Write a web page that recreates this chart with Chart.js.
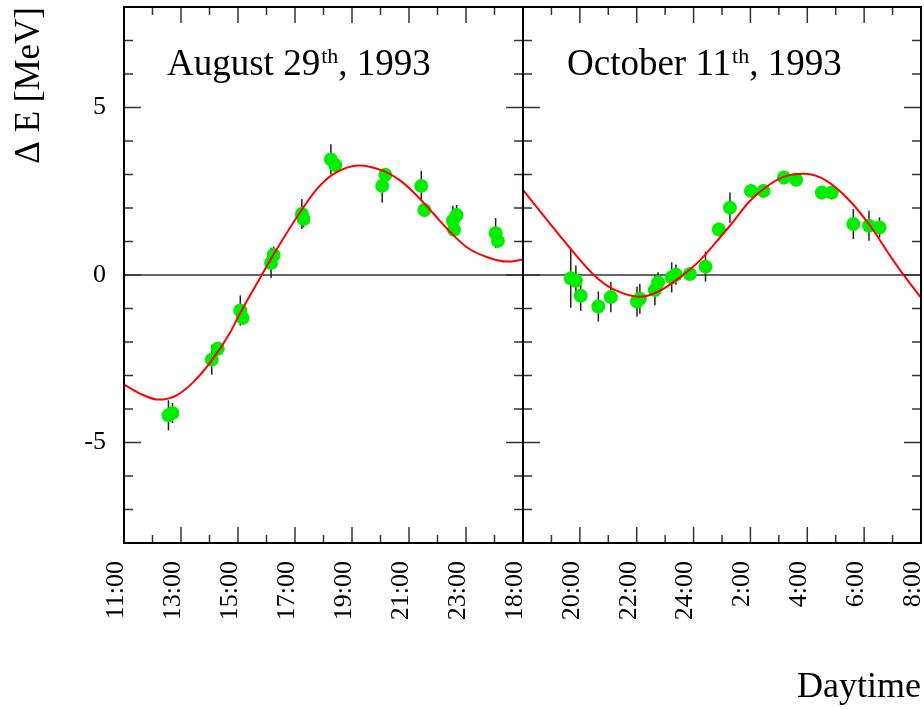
<!DOCTYPE html>
<html>
<head>
<meta charset="utf-8">
<script src="https://cdn.jsdelivr.net/npm/chart.js@4.4.1/dist/chart.umd.min.js"></script>
<style>
  html, body { margin: 0; padding: 0; background: #fff; }
  #wrap { position: relative; width: 924px; height: 709px; }
  #wrap canvas { position: absolute; left: 0; top: 0; }
</style>
</head>
<body>
<div id="wrap">
  <canvas id="aug-chart" width="924" height="709"></canvas>
  <canvas id="oct-chart" width="924" height="709"></canvas>
</div>
<script>
// August 29th, 1993 - measured points (hour of day, Delta E in MeV, error)
const augHours  = [12.56, 12.70, 14.08, 14.29, 15.08, 15.16, 16.16, 16.25, 17.24, 17.30, 18.26, 18.41, 20.06, 20.17, 21.43, 21.54, 22.54, 22.58, 22.67, 24.04, 24.12];
const augDeltaE = [-4.19, -4.12, -2.53, -2.20, -1.06, -1.28, 0.36, 0.60, 1.82, 1.67, 3.45, 3.28, 2.66, 2.99, 2.66, 1.94, 1.62, 1.35, 1.79, 1.25, 1.02];
const augErrors = [0.45, 0.30, 0.45, 0.20, 0.45, 0.20, 0.45, 0.25, 0.45, 0.25, 0.45, 0.20, 0.50, 0.20, 0.45, 0.20, 0.45, 0.20, 0.30, 0.45, 0.20];
// fitted curve
const augFitHours = [11.0, 11.56, 12.21, 12.85, 13.44, 14.08, 14.73, 15.08, 15.78, 16.31, 17.19, 17.78, 18.36, 19.24, 20.12, 20.71, 21.29, 21.87, 22.46, 23.04, 23.75, 24.45, 25.0];
const augFitE     = [-3.27, -3.54, -3.72, -3.59, -3.19, -2.55, -1.71, -1.13, -0.08, 0.70, 1.89, 2.58, 3.02, 3.27, 3.10, 2.81, 2.36, 1.82, 1.27, 0.82, 0.53, 0.40, 0.46];

// October 11th, 1993 (hours past midnight continue as 24+)
const octHours  = [19.68, 19.86, 20.03, 20.65, 21.09, 22.01, 22.11, 22.64, 22.75, 23.23, 23.38, 23.87, 24.42, 24.89, 25.28, 26.02, 26.46, 27.18, 27.61, 28.51, 28.86, 29.62, 30.17, 30.54];
const octDeltaE = [-0.10, -0.17, -0.62, -0.94, -0.66, -0.79, -0.71, -0.45, -0.22, -0.07, 0.01, 0.03, 0.25, 1.36, 2.01, 2.51, 2.51, 2.91, 2.84, 2.46, 2.46, 1.52, 1.47, 1.42];
const octErrors = [0.88, 0.45, 0.45, 0.45, 0.45, 0.45, 0.45, 0.45, 0.30, 0.45, 0.30, 0.20, 0.45, 0.20, 0.45, 0.20, 0.20, 0.20, 0.10, 0.20, 0.20, 0.45, 0.45, 0.30];
const octFitHours = [18.0, 18.82, 19.64, 20.52, 21.17, 22.17, 22.81, 23.52, 24.22, 24.93, 25.28, 25.98, 26.69, 27.27, 27.92, 28.68, 29.50, 30.21, 30.91, 31.38, 32.03];
const octFitE     = [2.54, 1.67, 0.82, -0.02, -0.42, -0.65, -0.47, -0.07, 0.43, 1.12, 1.47, 2.21, 2.71, 2.96, 3.02, 2.81, 2.21, 1.47, 0.58, 0.01, -0.71];

const augTickHours  = [11, 13, 15, 17, 19, 21, 23];
const augTickLabels = ['11:00', '13:00', '15:00', '17:00', '19:00', '21:00', '23:00'];
const octTickHours  = [18, 20, 22, 24, 26, 28, 30, 32];
const octTickLabels = ['18:00', '20:00', '22:00', '24:00', '2:00', '4:00', '6:00', '8:00'];
const yTickValues = [-5, 0, 5];
const yTickLabels = ['-5', '0', '5'];

const augTitle = ['August 29', 'th', ', 1993'];
const octTitle = ['October 11', 'th', ', 1993'];

const FONT = '"Liberation Serif", "Times New Roman", serif';

function toPoints(xs, ys) {
    return xs.map((x, i) => ({ x: x, y: ys[i] }));
}

function labelFor(values, labels) {
    return function(value) {
        const i = values.indexOf(value);
        return i >= 0 ? labels[i] : '';
    };
}

function line(ctx, x1, y1, x2, y2) {
    ctx.beginPath();
    ctx.moveTo(x1, y1);
    ctx.lineTo(x2, y2);
    ctx.stroke();
}

// frame, inward ticks, zero line, error bars and the date in each panel
const panelDecor = {
    id: 'panelDecor',
    beforeDatasetsDraw(chart, args, opts) {
        const ctx = chart.ctx;
        const a = chart.chartArea;
        const xs = chart.scales.x, ys = chart.scales.y;
        ctx.save();
        ctx.strokeStyle = '#666';
        ctx.lineWidth = 2;
        const y0 = ys.getPixelForValue(0);
        line(ctx, a.left, y0, a.right, y0);

        ctx.strokeStyle = '#222';
        ctx.lineWidth = 1.5;
        chart.data.datasets[1].data.forEach((p, i) => {
            const e = opts.errors[i];
            const px = xs.getPixelForValue(p.x);
            line(ctx, px, ys.getPixelForValue(p.y - e), px, ys.getPixelForValue(p.y + e));
        });
        ctx.restore();
    },
    afterDraw(chart, args, opts) {
        const ctx = chart.ctx;
        const a = chart.chartArea;
        const xs = chart.scales.x, ys = chart.scales.y;
        ctx.save();
        ctx.strokeStyle = '#333';
        ctx.lineWidth = 1.5;
        xs.ticks.forEach(t => {
            if (t.value <= xs.min || t.value >= xs.max) return;
            const px = xs.getPixelForValue(t.value);
            const len = opts.majorHours.includes(t.value) ? 16 : 8;
            line(ctx, px, a.bottom, px, a.bottom - len);
            line(ctx, px, a.top, px, a.top + len);
        });
        ys.ticks.forEach(t => {
            if (t.value <= ys.min || t.value >= ys.max) return;
            const py = ys.getPixelForValue(t.value);
            const len = t.value % 5 === 0 ? 17 : 9;
            line(ctx, a.left, py, a.left + len, py);
            line(ctx, a.right, py, a.right - len, py);
        });
        ctx.strokeStyle = '#000';
        ctx.lineWidth = 2;
        ctx.strokeRect(a.left, a.top, a.right - a.left, a.bottom - a.top);

        // date with superscript "th"
        ctx.fillStyle = '#000';
        ctx.textBaseline = 'alphabetic';
        ctx.textAlign = 'left';
        let tx = opts.titleX;
        ctx.font = '37px ' + FONT;
        ctx.fillText(opts.title[0], tx, 75);
        tx += ctx.measureText(opts.title[0]).width + 1;
        ctx.font = '22px ' + FONT;
        ctx.fillText(opts.title[1], tx, 63);
        tx += ctx.measureText(opts.title[1]).width;
        ctx.font = '37px ' + FONT;
        ctx.fillText(opts.title[2], tx, 75);
        ctx.restore();
    }
};

function fixX(scale) {
    scale.height = 166;
    scale.paddingLeft = 0;
    scale.paddingRight = 0;
}

function fixY(scale) {
    if (scale.options.display) scale.width = 124;
    scale.paddingTop = 0;
    scale.paddingBottom = 0;
}

function makePanel(canvas, cfg) {
    return new Chart(canvas.getContext('2d'), {
        type: 'line',
        data: {
            datasets: [{
                label: 'fit',
                data: toPoints(cfg.fitHours, cfg.fitE),
                borderColor: '#ff0000',
                borderWidth: 2,
                pointRadius: 0,
                cubicInterpolationMode: 'monotone',
                fill: false,
                order: 0
            }, {
                label: 'data',
                data: toPoints(cfg.hours, cfg.deltaE),
                showLine: false,
                pointRadius: 7,
                pointBackgroundColor: '#00ee00',
                pointBorderWidth: 0,
                order: 1
            }]
        },
        options: {
            responsive: false,
            animation: false,
            layout: { padding: cfg.padding, autoPadding: false },
            plugins: {
                legend: { display: false },
                tooltip: { enabled: false },
                panelDecor: {
                    errors: cfg.errors,
                    majorHours: cfg.tickHours,
                    title: cfg.title,
                    titleX: cfg.titleX
                }
            },
            scales: {
                x: {
                    type: 'linear',
                    min: cfg.xMin,
                    max: cfg.xMax,
                    grid: { display: false, drawTicks: false },
                    border: { display: false },
                    ticks: {
                        stepSize: 1,
                        maxTicksLimit: 100,
                        autoSkip: false,
                        minRotation: 90,
                        maxRotation: 90,
                        padding: 18,
                        labelOffset: -8,
                        color: '#000',
                        font: { family: FONT, size: 26 },
                        callback: labelFor(cfg.tickHours, cfg.tickLabels)
                    },
                    title: {
                        display: cfg.showXTitle,
                        text: 'Daytime',
                        align: 'end',
                        color: '#000',
                        font: { family: FONT, size: 36 },
                        padding: { top: 0, bottom: 0 }
                    },
                    afterFit: fixX
                },
                y: {
                    display: cfg.showY,
                    min: -8,
                    max: 8,
                    grid: { display: false, drawTicks: false },
                    border: { display: false },
                    ticks: {
                        stepSize: 1,
                        maxTicksLimit: 100,
                        autoSkip: false,
                        padding: 18,
                        color: '#000',
                        font: { family: FONT, size: 26 },
                        callback: labelFor(yTickValues, yTickLabels)
                    },
                    title: {
                        display: true,
                        text: 'Δ E [MeV]',
                        align: 'end',
                        color: '#000',
                        font: { family: FONT, size: 35 },
                        padding: { top: 9, bottom: 0 }
                    },
                    afterFit: fixY
                }
            }
        },
        plugins: [panelDecor]
    });
}

makePanel(document.querySelector('#aug-chart'), {
    hours: augHours, deltaE: augDeltaE, errors: augErrors,
    fitHours: augFitHours, fitE: augFitE,
    tickHours: augTickHours, tickLabels: augTickLabels,
    xMin: 11, xMax: 25,
    title: augTitle, titleX: 167,
    showY: true, showXTitle: false,
    padding: { top: 7, right: 401, left: 0, bottom: 0 }
});

makePanel(document.querySelector('#oct-chart'), {
    hours: octHours, deltaE: octDeltaE, errors: octErrors,
    fitHours: octFitHours, fitE: octFitE,
    tickHours: octTickHours, tickLabels: octTickLabels,
    xMin: 18, xMax: 32,
    title: octTitle, titleX: 567,
    showY: false, showXTitle: true,
    padding: { top: 7, right: 3, left: 523, bottom: 0 }
});
</script>
</body>
</html>
